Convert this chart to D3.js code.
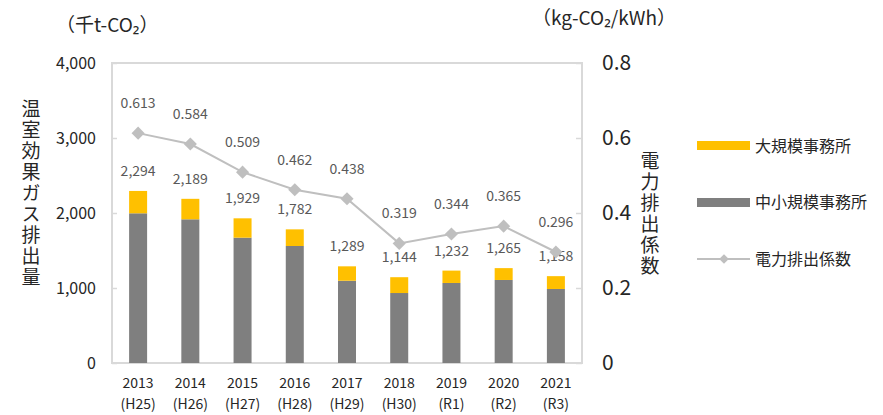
<!DOCTYPE html>
<html>
<head>
<meta charset="utf-8">
<script src="https://cdn.jsdelivr.net/npm/d3@7"></script>
<style>
  body { margin: 0; background: #fff; }
  text { font-family: "Noto Sans CJK JP", "Noto Sans", sans-serif; }
</style>
</head>
<body>
<script>
// data
var years = ["2013", "2014", "2015", "2016", "2017", "2018", "2019", "2020", "2021"];
var eras = ["(H25)", "(H26)", "(H27)", "(H28)", "(H29)", "(H30)", "(R1)", "(R2)", "(R3)"];
var smallOffices = [1996, 1916, 1671, 1560, 1097, 933, 1067, 1107, 987];
var totals = [2294, 2189, 1929, 1782, 1289, 1144, 1232, 1265, 1158];
var factors = [0.613, 0.584, 0.509, 0.462, 0.438, 0.319, 0.344, 0.365, 0.296];
var leftTicks = [0, 1000, 2000, 3000, 4000];
var rightTicks = [0, 0.2, 0.4, 0.6, 0.8];

var width = 883, height = 415;
var plot = {left: 112, right: 582, top: 63, bottom: 363};

var svg = d3.select("body").append("svg")
    .attr("width", width)
    .attr("height", height);

var x = d3.scaleBand()
    .domain(years)
    .range([plot.left, plot.right]);

var yLeft = d3.scaleLinear().domain([0, 4000]).range([plot.bottom, plot.top]);
var yRight = d3.scaleLinear().domain([0, 0.8]).range([plot.bottom, plot.top]);

var gridColor = "#d9d9d9";
var barW = 18;

// plot frame
svg.append("rect")
    .attr("x", plot.left).attr("y", plot.top)
    .attr("width", plot.right - plot.left)
    .attr("height", plot.bottom - plot.top)
    .attr("fill", "none")
    .attr("stroke", gridColor)
    .attr("stroke-width", 2);

// left axis (ticks pointing inward)
var leftAxis = svg.append("g")
    .attr("transform", "translate(" + plot.left + ",0)")
    .call(d3.axisRight(yLeft).tickValues(leftTicks).tickSize(5).tickFormat(""));
leftAxis.select(".domain").remove();
leftAxis.selectAll("line").attr("stroke", gridColor).attr("stroke-width", 1.5);

svg.append("g").selectAll("text")
    .data(leftTicks)
    .enter().append("text")
    .attr("x", 96)
    .attr("y", function(d) { return yLeft(d); })
    .attr("dy", "0.35em")
    .attr("text-anchor", "end")
    .attr("font-size", 16)
    .attr("fill", "#262626")
    .text(function(d) { return d3.format(",")(d); });

// right axis
var rightAxis = svg.append("g")
    .attr("transform", "translate(" + plot.right + ",0)")
    .call(d3.axisLeft(yRight).tickValues(rightTicks).tickSize(6).tickFormat(""));
rightAxis.select(".domain").remove();
rightAxis.selectAll("line").attr("stroke", gridColor).attr("stroke-width", 1.5);

svg.append("g").selectAll("text")
    .data(rightTicks)
    .enter().append("text")
    .attr("x", 602)
    .attr("y", function(d) { return yRight(d); })
    .attr("dy", "0.35em")
    .attr("font-size", 21)
    .attr("fill", "#262626")
    .text(function(d) { return d === 0 ? "0" : d3.format(".1f")(d); });

// bars: small offices (gray) + large offices (yellow) stacked
var bars = svg.append("g");
bars.selectAll(".small")
    .data(years)
    .enter().append("rect")
    .attr("class", "small")
    .attr("x", function(d) { return x(d) + x.bandwidth() / 2 - barW / 2; })
    .attr("width", barW)
    .attr("y", function(d, i) { return yLeft(smallOffices[i]); })
    .attr("height", function(d, i) { return yLeft(0) - yLeft(smallOffices[i]); })
    .attr("fill", "#7f7f7f");

bars.selectAll(".large")
    .data(years)
    .enter().append("rect")
    .attr("class", "large")
    .attr("x", function(d) { return x(d) + x.bandwidth() / 2 - barW / 2; })
    .attr("width", barW)
    .attr("y", function(d, i) { return yLeft(totals[i]); })
    .attr("height", function(d, i) { return yLeft(smallOffices[i]) - yLeft(totals[i]); })
    .attr("fill", "#ffc000");

// total labels
svg.append("g").selectAll("text")
    .data(years)
    .enter().append("text")
    .attr("x", function(d) { return x(d) + x.bandwidth() / 2; })
    .attr("y", function(d, i) { return yLeft(totals[i]) - 20; })
    .attr("dy", "0.35em")
    .attr("text-anchor", "middle")
    .attr("font-size", 14)
    .attr("fill", "#595959")
    .text(function(d, i) { return d3.format(",")(totals[i]); });

// emission factor line
var line = d3.line()
    .x(function(d, i) { return x(years[i]) + x.bandwidth() / 2; })
    .y(function(d) { return yRight(d); });

svg.append("path")
    .datum(factors)
    .attr("d", line)
    .attr("fill", "none")
    .attr("stroke", "#bfbfbf")
    .attr("stroke-width", 2);

var diamond = d3.symbol().type(d3.symbolDiamond2).size(110);
svg.append("g").selectAll("path")
    .data(factors)
    .enter().append("path")
    .attr("d", diamond)
    .attr("transform", function(d, i) {
      return "translate(" + (x(years[i]) + x.bandwidth() / 2) + "," + yRight(d) + ")";
    })
    .attr("fill", "#bfbfbf");

svg.append("g").selectAll("text")
    .data(factors)
    .enter().append("text")
    .attr("x", function(d, i) { return x(years[i]) + x.bandwidth() / 2; })
    .attr("y", function(d) { return yRight(d) - 30; })
    .attr("dy", "0.35em")
    .attr("text-anchor", "middle")
    .attr("font-size", 14)
    .attr("fill", "#595959")
    .text(function(d) { return d3.format(".3f")(d); });

// x labels
var xl = svg.append("g").selectAll("g")
    .data(years)
    .enter().append("g")
    .attr("transform", function(d) { return "translate(" + (x(d) + x.bandwidth() / 2) + ",0)"; });
xl.append("text")
    .attr("y", 383).attr("dy", "0.35em")
    .attr("text-anchor", "middle")
    .attr("font-size", 14)
    .attr("fill", "#262626")
    .text(function(d) { return d; });
xl.append("text")
    .attr("y", 404).attr("dy", "0.35em")
    .attr("text-anchor", "middle")
    .attr("font-size", 14)
    .attr("fill", "#262626")
    .text(function(d, i) { return eras[i]; });

// units (full-width parentheses)
svg.append("text")
    .attr("x", 56).attr("y", 25).attr("dy", "0.35em")
    .attr("font-size", 19).attr("fill", "#262626")
    .text("（千t-CO₂）");
svg.append("text")
    .attr("x", 532).attr("y", 18).attr("dy", "0.35em")
    .attr("font-size", 19).attr("fill", "#262626")
    .text("（kg-CO₂/kWh）");

// vertical axis titles, one text each in vertical writing mode
function verticalTitle(str, cx, top) {
  svg.append("text")
      .attr("x", cx)
      .attr("y", top)
      .style("writing-mode", "vertical-rl")
      .style("text-orientation", "upright")
      .attr("letter-spacing", 2)
      .attr("font-size", 19)
      .attr("fill", "#262626")
      .text(str);
}
verticalTitle("温室効果ガス排出量", 31, 99);
verticalTitle("電力排出係数", 650, 151);

// legend
var legend = svg.append("g");
legend.append("rect").attr("x", 697).attr("y", 141).attr("width", 53).attr("height", 9).attr("fill", "#ffc000");
legend.append("rect").attr("x", 697).attr("y", 198).attr("width", 53).attr("height", 9).attr("fill", "#7f7f7f");
legend.append("line").attr("x1", 697).attr("x2", 750).attr("y1", 259).attr("y2", 259)
    .attr("stroke", "#bfbfbf").attr("stroke-width", 2);
legend.append("path").attr("d", d3.symbol().type(d3.symbolDiamond2).size(60))
    .attr("transform", "translate(724,259)").attr("fill", "#bfbfbf");
var legendNames = ["大規模事務所", "中小規模事務所", "電力排出係数"];
legend.selectAll("text")
    .data(legendNames)
    .enter().append("text")
    .attr("x", 755)
    .attr("y", function(d, i) { return [146, 202, 259][i]; })
    .attr("dy", "0.35em")
    .attr("font-size", 16)
    .attr("fill", "#262626")
    .text(function(d) { return d; });
</script>
</body>
</html>
